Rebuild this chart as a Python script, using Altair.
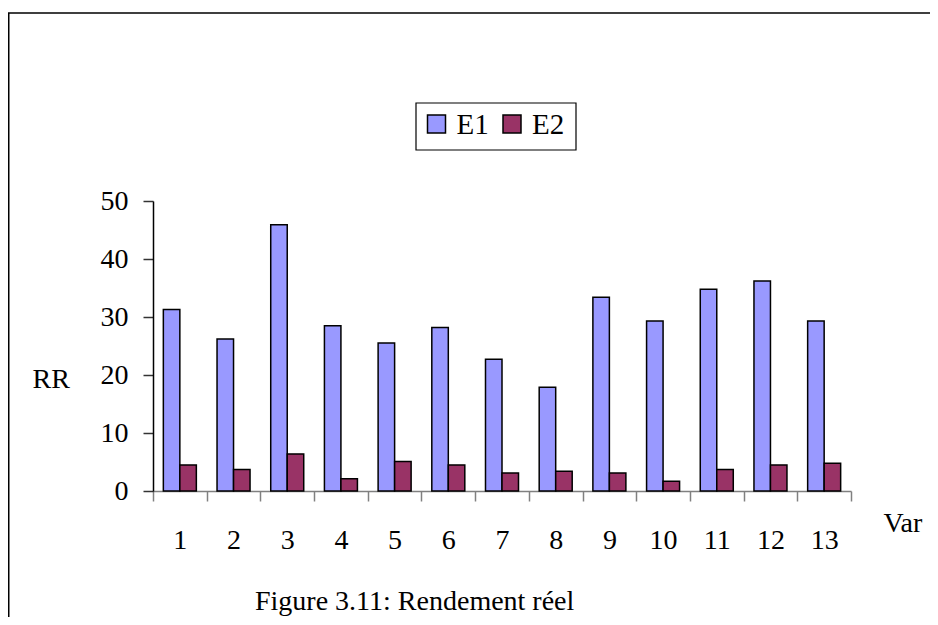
import altair as alt
import pandas as pd

variables = [str(i) for i in range(1, 14)]
e1 = [31.3, 26.2, 45.9, 28.5, 25.5, 28.2, 22.7, 17.9, 33.4, 29.3, 34.8, 36.2, 29.3]
e2 = [4.5, 3.7, 6.4, 2.1, 5.1, 4.5, 3.1, 3.4, 3.1, 1.7, 3.7, 4.5, 4.8]
series = ["E1", "E2"]
colors = ["#9999FF", "#993366"]
caption = "Figure 3.11: Rendement réel"

df = pd.DataFrame({
    "Var": variables * 2,
    "Serie": ["E1"] * len(variables) + ["E2"] * len(variables),
    "RR": e1 + e2,
})
legend_df = pd.DataFrame({"Serie": series})

FONT = "Liberation Serif"
color_scale = alt.Scale(domain=series, range=colors)

frame = alt.Chart(pd.DataFrame({"a": [0]})).mark_rect(
    fillOpacity=0, stroke="black", strokeWidth=1.5
).encode(
    x=alt.value(-144.25), x2=alt.value(1200),
    y=alt.value(-188), y2=alt.value(900),
)

bars = alt.Chart(df).mark_bar(stroke="black", strokeWidth=1.5).encode(
    x=alt.X(
        "Var:N", sort=variables,
        scale=alt.Scale(paddingInner=0, paddingOuter=0),
        axis=alt.Axis(
            title="Var", labelAngle=0, tickBand="extent",
            domainColor="#808080", tickColor="#808080", tickSize=10,
            labelPadding=25, labelFontSize=28,
            titleX=730, titleY=40, titleAlign="left", titleBaseline="alphabetic",
            titleFontSize=28,
        ),
    ),
    xOffset=alt.XOffset("Serie:N", sort=series,
                        scale=alt.Scale(paddingInner=0, paddingOuter=0.627)),
    y=alt.Y(
        "RR:Q", scale=alt.Scale(domain=[0, 50]),
        axis=alt.Axis(
            values=[0, 10, 20, 30, 40, 50], grid=False, title="RR",
            titleAngle=0, titleAlign="left", titleBaseline="alphabetic",
            titleX=-121, titleY=186, titleFontSize=28,
            labelFontSize=28, labelPadding=15, tickSize=10,
            domainColor="black", tickColor="#333333",
        ),
    ),
    color=alt.Color("Serie:N", scale=color_scale, legend=None),
)

# legend drawn as its own small layer (point scale for the two series)
leg_x = alt.X("Serie:N", sort=series, axis=None,
              scale=alt.Scale(domain=series, range=[283.5, 359], padding=0))

leg_box = alt.Chart(pd.DataFrame({"a": [0]})).mark_rect(
    fillOpacity=0, stroke="black", strokeWidth=1.2
).encode(
    x=alt.value(263), x2=alt.value(423),
    y=alt.value(-98), y2=alt.value(-51),
)

leg_sym = alt.Chart(legend_df).mark_square(
    size=324, stroke="black", strokeWidth=1.5, opacity=1
).encode(
    x=leg_x, y=alt.value(-77),
    color=alt.Color("Serie:N", scale=color_scale, legend=None),
)

leg_txt = alt.Chart(legend_df).mark_text(
    align="left", baseline="middle", dx=20, dy=1, fontSize=29, font=FONT, color="black"
).encode(x=leg_x, y=alt.value(-77), text="Serie:N")

cap = alt.Chart(pd.DataFrame({"t": [caption]})).mark_text(
    align="left", baseline="alphabetic", fontSize=28, font=FONT, color="black"
).encode(text="t:N", x=alt.value(102), y=alt.value(409))

chart = alt.layer(frame, bars, leg_box, leg_sym, leg_txt, cap).resolve_scale(
    x="independent"
).properties(
    width=698, height=290,
    padding={"left": 145, "top": 193, "right": 79, "bottom": 126},
    autosize=alt.AutoSizeParams(type="none"),
).configure(font=FONT).configure_view(stroke=None).configure_axis(
    labelFont=FONT, titleFont=FONT, labelColor="black", titleColor="black",
    titleFontWeight="normal", domainWidth=1.5, tickWidth=1.5,
)

chart.save("out.html", embed_options={"renderer": "svg", "actions": False})
